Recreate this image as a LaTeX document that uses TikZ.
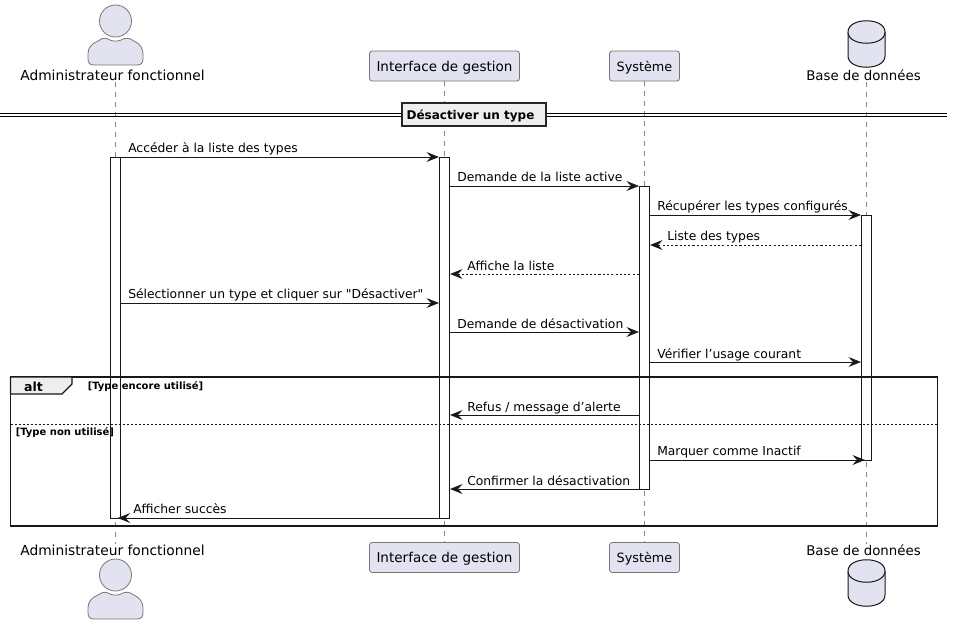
\documentclass[tikz,border=0pt]{standalone}
\usepackage{fontspec}
\setmainfont{DejaVu Sans}
\newfontfamily\straightq{DejaVu Sans}
\usetikzlibrary{arrows.meta}
\definecolor{partfill}{HTML}{E2E2F0}
\definecolor{partline}{HTML}{777777}
\definecolor{lifeline}{HTML}{888888}
\definecolor{inkc}{HTML}{181818}
\definecolor{tabfill}{HTML}{EEEEEE}
\newcommand{\ptfont}[1]{\fontsize{#1}{#1}\selectfont}
\newcommand{\parttext}[1]{\raisebox{-4pt}[0pt][0pt]{#1}}
\newcommand{\actorshape}[1]{%
  \begin{scope}[shift={(0,#1)}]
    \draw[actorline] (115.5,21) circle[radius=16];
    \draw[actorline] (98,41) .. controls (103,37) and (107,38) .. (110,40)
      .. controls (113,41.5) and (118,41.5) .. (121,40)
      .. controls (124,38) and (129,37) .. (134,41)
      .. controls (140,44) and (143,48) .. (143,54)
      -- (143,59) .. controls (143,63) and (141,65) .. (137,65)
      -- (94,65) .. controls (90,65) and (88,63) .. (88,59)
      -- (88,54) .. controls (88,48) and (91,44) .. (98,41) -- cycle;
  \end{scope}}
\newcommand{\dbshape}[1]{%
  \begin{scope}[shift={(0,#1)}]
    \draw[dbline] (848,32) .. controls (848,17) and (885,17) .. (885,32)
      -- (885,56) .. controls (885,71) and (848,71) .. (848,56) -- cycle;
    \draw[dbline] (848,32) .. controls (848,47) and (885,47) .. (885,32);
  \end{scope}}
\tikzset{
  x=0.75pt,y=-0.75pt,
  actorline/.style={draw=partline,fill=partfill,line width=0.6pt},
  dbline/.style={draw=inkc,fill=partfill,line width=0.75pt},
  partbox/.style={draw=partline,fill=partfill,line width=0.6pt,rounded corners=2pt,inner sep=0pt,minimum height=22.5pt},
  plainlabel/.style={inner sep=0pt,anchor=base},
  lifel/.style={draw=lifeline,line width=0.5pt,dash pattern=on 3.75pt off 3.75pt},
  barfill/.style={fill=white,draw=none,inner sep=0pt,minimum width=7.5pt},
  barbox/.style={draw=inkc,line width=0.75pt,inner sep=0pt,minimum width=7.5pt},
  msg/.style={draw=inkc,line width=0.75pt,-{Stealth[length=9.5pt,width=7.5pt,inset=3.6pt,color=inkc]}},
  ret/.style={msg,dash pattern=on 1.6pt off 1.6pt},
  msglabel/.style={inner sep=0pt,anchor=base west,font=\ptfont{9.25}},
  framelabel/.style={inner sep=0pt,anchor=base west,font=\ptfont{7.5}\bfseries},
}
\begin{document}
\begin{tikzpicture}
\useasboundingbox (0,0) rectangle (953,625);
% level coordinates
\foreach \n/\y in {y1/157,y2/186,y3/215,y4/245,y5/274,y6/303,y7/332,y8/362,y9/415,y10/460,y11/489,y12/518}
  \coordinate (\n) at (0,\y);
% participants
\node[partbox,minimum width=112.5pt,font=\ptfont{10.15}] (itop) at (444.5,66) {\parttext{Interface de gestion}};
\node[partbox,minimum width=52.5pt,font=\ptfont{9.6}] (stop) at (644.5,66) {\parttext{Système}};
\node[partbox,minimum width=112.5pt,font=\ptfont{10.15}] (ibot) at (444.5,557.5) {\parttext{Interface de gestion}};
\node[partbox,minimum width=52.5pt,font=\ptfont{9.6}] (sbot) at (644.5,557.5) {\parttext{Système}};
\coordinate (atop) at (115.5,82);
\coordinate (abot) at (115.5,544);
\coordinate (dtop) at (866.5,82);
\coordinate (dbot) at (866.5,544);
% lifelines
\draw[lifel] (atop) -- (abot);
\draw[lifel] (itop) -- (ibot);
\draw[lifel] (stop) -- (sbot);
\draw[lifel] (dtop) -- (dbot);
% actors and databases
\actorshape{0}
\actorshape{554}
\dbshape{0}
\dbshape{539}
\node[plainlabel,font=\ptfont{10.35}] (alabt) at (112.5,80) {Administrateur fonctionnel};
\node[plainlabel,font=\ptfont{10.35}] (alabb) at (112.5,555) {Administrateur fonctionnel};
\node[plainlabel,font=\ptfont{10}] (dlabt) at (863.5,80) {Base de données};
\node[plainlabel,font=\ptfont{10}] (dlabb) at (863.5,555) {Base de données};
% divider
\coordinate (bl) at (0,113);
\coordinate (br) at (947,113);
\coordinate (bl2) at (0,116);
\coordinate (br2) at (947,116);
\draw[draw=black,line width=0.75pt] (bl) -- (br);
\draw[draw=black,line width=0.75pt] (bl2) -- (br2);
\node[draw=black!85,fill=tabfill,line width=1.5pt,inner sep=0pt,minimum width=108.5pt,minimum height=17.5pt] (sect) at (474,114.5) {};
\node[inner sep=0pt,anchor=base,font=\ptfont{9}\bfseries] (secttxt) at (470.5,119) {Désactiver un type};
% activation bars: white bodies below the frame
\node[barfill,minimum height=270.75pt] (fa) at (115.5,337.5) {};
\node[barfill,minimum height=270.75pt] (fi) at (444.5,337.5) {};
\node[barfill,minimum height=227.25pt] (fs) at (644.5,337.5) {};
\node[barfill,minimum height=183.75pt] (fd) at (866.5,337.5) {};
% alt frame
\draw[draw=inkc,line width=1.2pt] (10.5,377) rectangle (937.5,526);
\draw[draw=inkc,fill=tabfill,line width=0.9pt] (10.5,377) -- (72,377) -- (72,384) -- (62,394) -- (10.5,394) -- cycle;
\node[inner sep=0pt,anchor=base,font=\ptfont{9.4}\bfseries] (alttxt) at (33.5,391) {alt};
\node[framelabel] (g1) at (87.5,389) {[Type encore utilisé]};
\draw[draw=inkc,line width=0.6pt,dash pattern=on 1.5pt off 1.5pt] (10.5,424) -- (937.5,424);
\node[framelabel] (g2) at (15.5,435) {[Type non utilisé]};
% activation bar outlines
\node[barbox,minimum height=270.75pt] (ba) at (115.5,337.5) {};
\node[barbox,minimum height=270.75pt] (bi) at (444.5,337.5) {};
\node[barbox,minimum height=227.25pt] (bs) at (644.5,337.5) {};
\node[barbox,minimum height=183.75pt] (bd) at (866.5,337.5) {};
% messages
\draw[msg] (ba.east |- y1) -- (bi.west |- y1);
\draw[msg] (bi.east |- y2) -- (bs.west |- y2);
\draw[msg] (bs.east |- y3) -- (bd.west |- y3);
\draw[ret] (bd.west |- y4) -- (bs.east |- y4);
\draw[ret] (bs.west |- y5) -- (bi.east |- y5);
\draw[msg] (ba.east |- y6) -- (bi.west |- y6);
\draw[msg] (bi.east |- y7) -- (bs.west |- y7);
\draw[msg] (bs.east |- y8) -- (bd.west |- y8);
\draw[msg] (bs.west |- y9) -- (bi.east |- y9);
\draw[msg,shorten >=-3pt] (bs.east |- y10) -- (bd.west |- y10);
\draw[msg] (bs.west |- y11) -- (bi.east |- y11);
\draw[msg,shorten >=-2.5pt] (bi.west |- y12) -- (ba.east |- y12);
% message labels
\node[msglabel] (m1) at (128,152) {Accéder à la liste des types};
\node[msglabel] (m2) at (457,181) {Demande de la liste active};
\node[msglabel] (m3) at (657,210) {Récupérer les types configurés};
\node[msglabel] (m4) at (667,240) {Liste des types};
\node[msglabel] (m5) at (467,270) {Affiche la liste};
\node[msglabel] (m6) at (128,298) {Sélectionner un type et cliquer sur {\straightq"}Désactiver{\straightq"}};
\node[msglabel] (m7) at (457,328) {Demande de désactivation};
\node[msglabel] (m8) at (657,358) {Vérifier l’usage courant};
\node[msglabel] (m9) at (467,411) {Refus / message d’alerte};
\node[msglabel] (m10) at (657,455) {Marquer comme Inactif};
\node[msglabel] (m11) at (467,485) {Confirmer la désactivation};
\node[msglabel] (m12) at (133,513) {Afficher succès};
\end{tikzpicture}
\end{document}
